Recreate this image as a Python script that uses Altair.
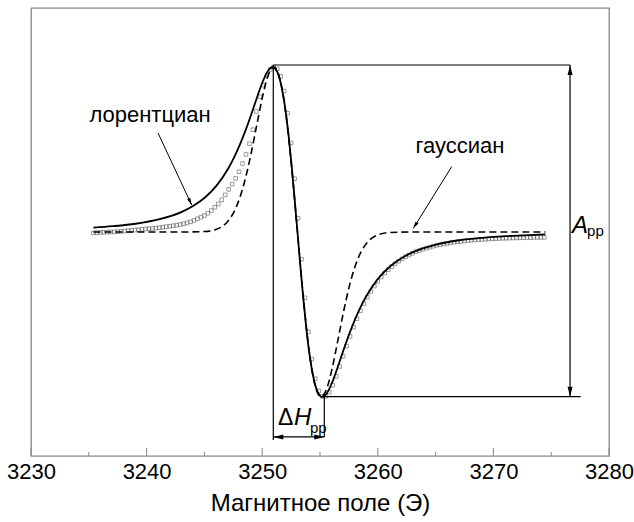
import altair as alt
import pandas as pd

# ---------------- data ----------------
# magnetic field (G) and normalised derivative signal
lor_field = [3235.4, 3237.05, 3239.05, 3241.05, 3243.05, 3244.05, 3245.05, 3246.05, 3247.05, 3247.55,
             3248.05, 3248.55, 3249.05, 3249.55, 3250.05, 3250.55, 3250.9, 3251.3, 3251.55, 3251.8,
             3252.05, 3252.3, 3252.55, 3252.8, 3253.05, 3253.3, 3253.55, 3253.8, 3254.05, 3254.3,
             3254.55, 3254.8, 3255.2, 3255.55, 3256.05, 3256.55, 3257.05, 3257.55, 3258.05, 3258.55,
             3259.05, 3260.05, 3261.05, 3262.05, 3263.05, 3265.05, 3267.05, 3269.05, 3271.05, 3273.05,
             3274.5]
lor_signal = [0.026, 0.035, 0.050, 0.076, 0.122, 0.159, 0.209, 0.281, 0.383, 0.449,
              0.526, 0.614, 0.712, 0.815, 0.912, 0.982, 1.0, 0.971, 0.918, 0.835,
              0.720, 0.573, 0.399, 0.205, 0.0, -0.205, -0.399, -0.573, -0.720, -0.835,
              -0.918, -0.971, -1.0, -0.982, -0.912, -0.815, -0.712, -0.614, -0.526, -0.449,
              -0.383, -0.281, -0.209, -0.159, -0.122, -0.076, -0.050, -0.035, -0.025, -0.0185,
              -0.015]

gau_field = [3235.4, 3243.05, 3245.05, 3246.05, 3246.55, 3247.05, 3247.55, 3248.05, 3248.55, 3249.05,
             3249.55, 3250.05, 3250.55, 3251.0, 3251.55, 3252.05, 3252.55, 3253.05, 3253.55, 3254.05,
             3254.55, 3255.1, 3255.55, 3256.05, 3256.55, 3257.05, 3257.55, 3258.05, 3258.55, 3259.05,
             3259.55, 3260.05, 3261.05, 3263.05, 3274.5]
gau_signal = [0.0, 0.0, 0.003, 0.017, 0.034, 0.067, 0.121, 0.205, 0.325, 0.479,
              0.655, 0.827, 0.956, 1.0, 0.923, 0.714, 0.390, 0.0, -0.390, -0.714,
              -0.923, -1.0, -0.956, -0.827, -0.655, -0.479, -0.325, -0.205, -0.121, -0.067,
              -0.034, -0.017, -0.003, 0.0, 0.0]

exp_field = [3235.4, 3235.7, 3236.0, 3236.3, 3236.6, 3236.9, 3237.2, 3237.5, 3237.8, 3238.1,
             3238.4, 3238.7, 3239.0, 3239.3, 3239.6, 3239.9, 3240.2, 3240.5, 3240.8, 3241.1,
             3241.4, 3241.7, 3242.0, 3242.3, 3242.6, 3242.9, 3243.2, 3243.5, 3243.8, 3244.1,
             3244.4, 3244.7, 3245.0, 3245.3, 3245.6, 3245.9, 3246.2, 3246.5, 3246.8, 3247.1,
             3247.4, 3247.7, 3248.0, 3248.3, 3248.6, 3248.9, 3249.2, 3249.5, 3249.8, 3250.1,
             3250.4, 3250.7, 3251.0, 3251.3, 3251.6, 3251.9, 3252.2, 3252.5, 3252.8, 3253.1,
             3253.4, 3253.7, 3254.0, 3254.3, 3254.6, 3254.9, 3255.2, 3255.5, 3255.8, 3256.1,
             3256.4, 3256.7, 3257.0, 3257.3, 3257.6, 3257.9, 3258.2, 3258.5, 3258.8, 3259.1,
             3259.4, 3259.7, 3260.0, 3260.3, 3260.6, 3260.9, 3261.2, 3261.5, 3261.8, 3262.1,
             3262.4, 3262.7, 3263.0, 3263.3, 3263.6, 3263.9, 3264.2, 3264.5, 3264.8, 3265.1,
             3265.4, 3265.7, 3266.0, 3266.3, 3266.6, 3266.9, 3267.2, 3267.5, 3267.8, 3268.1,
             3268.4, 3268.7, 3269.0, 3269.3, 3269.6, 3269.9, 3270.2, 3270.5, 3270.8, 3271.1,
             3271.4, 3271.7, 3272.0, 3272.3, 3272.6, 3272.9, 3273.2, 3273.5, 3273.8, 3274.1,
             3274.4]
exp_signal = [-0.005, -0.004, -0.003, -0.002, -0.001, 0.000, 0.001, 0.002, 0.004, 0.006,
              0.008, 0.010, 0.012, 0.014, 0.016, 0.018, 0.020, 0.022, 0.024, 0.026,
              0.029, 0.032, 0.035, 0.038, 0.041, 0.045, 0.050, 0.055, 0.062, 0.070,
              0.080, 0.090, 0.100, 0.114, 0.130, 0.150, 0.170, 0.195, 0.225, 0.258,
              0.290, 0.325, 0.365, 0.415, 0.470, 0.535, 0.620, 0.730, 0.820, 0.890,
              0.950, 0.985, 1.000, 0.989, 0.943, 0.855, 0.720, 0.540, 0.323, 0.083,
              -0.165, -0.399, -0.605, -0.770, -0.889, -0.963, -0.996, -0.996, -0.971, -0.929,
              -0.875, -0.815, -0.753, -0.692, -0.633, -0.577, -0.525, -0.478, -0.434, -0.395,
              -0.360, -0.328, -0.299, -0.273, -0.249, -0.228, -0.209, -0.192, -0.177, -0.163,
              -0.150, -0.139, -0.129, -0.119, -0.112, -0.104, -0.098, -0.092, -0.086, -0.081,
              -0.077, -0.072, -0.069, -0.065, -0.062, -0.059, -0.057, -0.054, -0.052, -0.050,
              -0.048, -0.047, -0.045, -0.044, -0.042, -0.041, -0.040, -0.039, -0.038, -0.038,
              -0.037, -0.036, -0.036, -0.035, -0.035, -0.034, -0.034, -0.033, -0.033, -0.033,
              -0.033]

major_ticks = [3230, 3240, 3250, 3260, 3270, 3280]
minor_ticks = [3235, 3245, 3255, 3265, 3275]

# annotation geometry in data units
seg_x = [3250.96, 3250.96, 3255.2, 3255.37, 3276.63, 3250.96, 3240.99, 3266.39]
seg_x2 = [3276.63, 3250.96, 3277.55, 3255.37, 3276.63, 3255.37, 3243.90, 3263.07]
seg_y = [1.012, 1.012, -0.998, -0.998, 1.012, -1.242, 0.600, 0.396]
seg_y2 = [1.012, -1.26, -0.998, -1.242, -0.998, -1.242, 0.164, 0.022]
seg_w = [1.2, 1.2, 1.2, 1.2, 1.2, 1.2, 1.0, 1.0]

head_x = [3276.63, 3276.63, 3250.96, 3255.37, 3243.90, 3263.07]
head_y = [1.012, -0.998, -1.242, -1.242, 0.164, 0.022]
head_ang = [270, 90, 180, 0, 64.7, 122.6]
head_sz = [400, 400, 400, 400, 196, 196]

label_x = [3240.3, 3267.1]
label_y = [0.665, 0.479]
label_txt = ["лорентциан", "гауссиан"]

FONT = "Liberation Sans"
Y_LIM = 1.3576

xscale = alt.Scale(domain=[3230, 3280], nice=False, zero=False)
yscale = alt.Scale(domain=[-Y_LIM, Y_LIM], nice=False, zero=False)
xaxis = alt.Axis(values=major_ticks, format="d", ticks=False, domain=False, grid=False,
                 labelFlush=False, labelOverlap=False,
                 labelFont=FONT, labelFontSize=22, labelColor="black", labelPadding=5,
                 title="Магнитное поле (Э)", titleFont=FONT, titleFontSize=24,
                 titleFontWeight="normal", titleColor="black", titlePadding=9)


def X(f):
    return alt.X(f, type="quantitative", scale=xscale, axis=xaxis)


def Y(f):
    return alt.Y(f, type="quantitative", scale=yscale, axis=None)


exp_df = pd.DataFrame({"x": exp_field, "y": exp_signal})
lor_df = pd.DataFrame({"x": lor_field, "y": lor_signal})
gau_df = pd.DataFrame({"x": gau_field, "y": gau_signal})
seg_df = pd.DataFrame({"x": seg_x, "x2": seg_x2, "y": seg_y, "y2": seg_y2, "w": seg_w})
head_df = pd.DataFrame({"x": head_x, "y": head_y, "ang": head_ang, "sz": head_sz})
lab_df = pd.DataFrame({"x": label_x, "y": label_y, "t": label_txt})
maj_df = pd.DataFrame({"x": major_ticks})
min_df = pd.DataFrame({"x": minor_ticks})

squares = alt.Chart(exp_df).mark_point(shape="square", filled=False, size=13,
                                       stroke="#4d4d4d", strokeWidth=0.8).encode(x=X("x"), y=Y("y"))
gauss = alt.Chart(gau_df).mark_line(color="black", strokeWidth=1.6, strokeDash=[7, 4],
                                    interpolate="monotone").encode(x=X("x"), y=Y("y"))
lorentz = alt.Chart(lor_df).mark_line(color="black", strokeWidth=1.8,
                                      interpolate="monotone").encode(x=X("x"), y=Y("y"))
segs = alt.Chart(seg_df).mark_rule(color="black").encode(
    x=X("x"), x2="x2", y=Y("y"), y2="y2", strokeWidth=alt.StrokeWidth("w:Q", scale=None))
heads = alt.Chart(head_df).mark_point(shape="M0,0L-1,-0.25L-1,0.25Z", filled=True,
                                      color="black", opacity=1, strokeWidth=0).encode(
    x=X("x"), y=Y("y"), angle=alt.Angle("ang:Q", scale=None), size=alt.Size("sz:Q", scale=None))
labels = alt.Chart(lab_df).mark_text(font=FONT, fontSize=22, color="black", align="center",
                                     baseline="alphabetic").encode(x=X("x"), y=Y("y"), text="t:N")


def txt(x, y, s, size, italic=False, align="left"):
    d = pd.DataFrame({"x": [x], "y": [y], "t": [s]})
    return alt.Chart(d).mark_text(font=FONT, fontSize=size, color="black", align=align,
                                  baseline="alphabetic",
                                  fontStyle="italic" if italic else "normal").encode(
        x=X("x"), y=Y("y"), text="t:N")


a_main = txt(3276.80, -0.006, "A", 24, italic=True)
a_sub = txt(3278.10, -0.024, "pp", 15)
d_main = txt(3251.37, -1.170, "Δ", 23)
h_main = txt(3252.75, -1.170, "H", 24, italic=True)
h_sub = txt(3254.13, -1.218, "pp", 15)

maj = alt.Chart(maj_df).mark_rule(color="#888888", strokeWidth=1).encode(
    x=X("x"), y=alt.value(448), y2=alt.value(440))
mino = alt.Chart(min_df).mark_rule(color="#888888", strokeWidth=1).encode(
    x=X("x"), y=alt.value(448), y2=alt.value(444))

chart = alt.layer(
    maj, mino, squares, gauss, lorentz, segs, heads, labels,
    a_main, a_sub, d_main, h_main, h_sub
).properties(
    width=578, height=448,
    autosize=alt.AutoSizeParams(type="none"),
    padding={"left": 31, "top": 8, "right": 25, "bottom": 66},
    background="white",
).configure_view(stroke="#888888", strokeWidth=1.3)

chart.save("out.html", embed_options={"renderer": "svg", "actions": False})
